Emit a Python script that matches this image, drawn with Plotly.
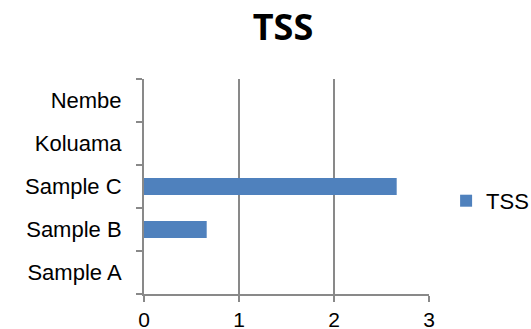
import plotly.graph_objects as go

# TSS readings per sampling site
sites = ["Sample A", "Sample B", "Sample C", "Koluama", "Nembe"]
tss = [0, 0.66, 2.66, 0, 0]
x_ticks = [0, 1, 2, 3]

fig = go.Figure(
    go.Bar(
        y=sites,
        x=tss,
        orientation="h",
        name="TSS",
        marker=dict(color="#4F81BD", line=dict(width=0)),
        showlegend=True,
    )
)

font_family = "Liberation Sans, Arial, sans-serif"
axis_grey = "#898989"

fig.update_layout(
    width=531,
    height=329,
    margin=dict(l=144, r=102, t=79, b=35, autoexpand=False),
    paper_bgcolor="white",
    plot_bgcolor="white",
    bargap=0.6,
    title=dict(
        text="<b>TSS</b>",
        x=0.533,
        xanchor="center",
        y=0.918,
        yanchor="middle",
        font=dict(family="Open Sans, sans-serif", size=36, color="black"),
    ),
    legend=dict(
        x=1.06,
        xanchor="left",
        y=0.433,
        yanchor="middle",
        font=dict(family=font_family, size=22, color="black"),
        bgcolor="rgba(0,0,0,0)",
    ),
    xaxis=dict(
        range=[0, 3],
        tickvals=x_ticks,
        ticktext=[str(v) for v in x_ticks],
        showgrid=True,
        gridcolor=axis_grey,
        gridwidth=2,
        zeroline=False,
        showline=True,
        linecolor=axis_grey,
        linewidth=2,
        ticks="outside",
        ticklen=6,
        tickwidth=2,
        tickcolor=axis_grey,
        ticklabelstandoff=0,
        tickfont=dict(family=font_family, size=21, color="black"),
        fixedrange=True,
    ),
    yaxis=dict(
        categoryorder="array",
        categoryarray=sites,
        showgrid=False,
        zeroline=False,
        showline=True,
        linecolor=axis_grey,
        linewidth=2,
        ticks="outside",
        tickson="boundaries",
        ticklen=6,
        tickwidth=2,
        tickcolor=axis_grey,
        ticklabelstandoff=16,
        tickfont=dict(family=font_family, size=22, color="black"),
        fixedrange=True,
    ),
)

fig.write_html("out.html")
